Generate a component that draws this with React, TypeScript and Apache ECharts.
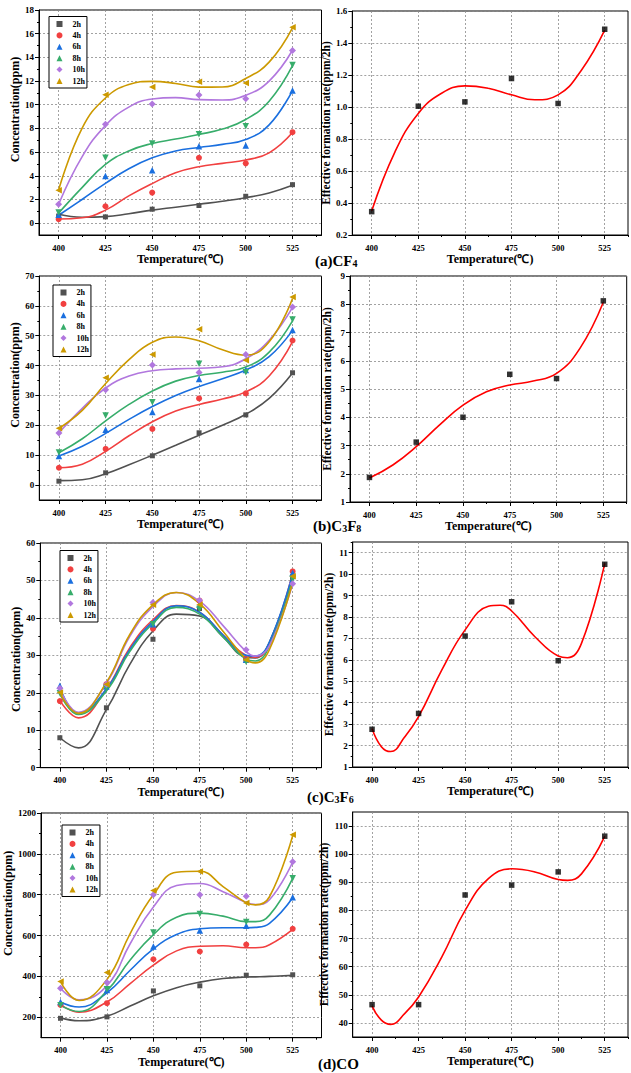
import React, { useEffect, useRef } from 'react';
import * as echarts from 'echarts';

// ---------- shared ----------
const TEMPS = [400, 425, 450, 475, 500, 525];
const HOURS = ['2h', '4h', '6h', '8h', '10h', '12h'];
const X_TICKS = [400, 425, 450, 475, 500, 525];
const X_MINOR = [412.5, 437.5, 462.5, 487.5, 512.5, 537.5];
const FIT_X = [400, 412.5, 425, 437.5, 450, 462.5, 475, 487.5, 500, 512.5, 525];

// ---------- (a) CF4 ----------
const CF4_2H = [0.6, 0.53, 1.18, 1.49, 2.27, 3.25];
const CF4_4H = [0.34, 1.43, 2.58, 5.52, 5.05, 7.68];
const CF4_6H = [0.7, 3.98, 4.46, 6.5, 6.56, 11.2];
const CF4_8H = [0.9, 5.52, 6.73, 7.51, 8.19, 13.35];
const CF4_10H = [1.6, 8.35, 10.06, 10.82, 10.51, 14.58];
const CF4_12H = [2.78, 10.85, 11.49, 11.94, 11.83, 16.54];
const CF4_FIT_2H = [0.75, 0.5, 0.55, 0.8, 1.1, 1.35, 1.6, 1.85, 2.15, 2.55, 3.2];
const CF4_FIT_4H = [0.35, 0.45, 1.1, 2.3, 3.34, 4.26, 4.77, 5.05, 5.33, 5.94, 7.65];
const CF4_FIT_6H = [0.67, 2.0, 3.36, 4.6, 5.52, 6.1, 6.39, 6.65, 7.06, 8.3, 11.2];
const CF4_FIT_8H = [0.85, 3.0, 4.96, 6.1, 6.73, 7.1, 7.49, 7.95, 8.75, 10.3, 13.3];
const CF4_FIT_10H = [1.6, 5.6, 8.24, 9.8, 10.49, 10.6, 10.43, 10.4, 10.8, 12.0, 14.6];
const CF4_FIT_12H = [2.8, 8.0, 10.57, 11.7, 11.97, 11.8, 11.49, 11.5, 12.22, 13.6, 16.5];
const CF4_RATE = [0.346, 1.005, 1.032, 1.178, 1.022, 1.486];
const CF4_RATE_FIT = [0.35, 0.72, 0.96, 1.086, 1.132, 1.117, 1.076, 1.045, 1.076, 1.23, 1.48];
const CF4_Y_TICKS = [0, 2, 4, 6, 8, 10, 12, 14, 16, 18];
const CF4_Y_MINOR = [1, 3, 5, 7, 9, 11, 13, 15, 17];
const CF4_R_TICKS = [0.2, 0.4, 0.6, 0.8, 1.0, 1.2, 1.4, 1.6];
const CF4_R_MINOR = [0.3, 0.5, 0.7, 0.9, 1.1, 1.3, 1.5];

// ---------- (b) C3F8 ----------
const C3F8_2H = [1.3, 4.1, 9.8, 17.5, 23.5, 37.6];
const C3F8_4H = [5.8, 12.1, 18.8, 29.0, 30.7, 48.4];
const C3F8_6H = [9.7, 18.5, 24.5, 35.5, 38.5, 51.9];
const C3F8_8H = [10.9, 23.3, 27.7, 40.6, 37.8, 55.4];
const C3F8_10H = [17.4, 31.9, 40.2, 37.7, 43.7, 59.6];
const C3F8_12H = [19.0, 35.9, 43.7, 52.2, 41.8, 63.0];
const C3F8_FIT_2H = [1.5, 1.8, 3.8, 6.8, 10.0, 13.3, 16.7, 20.0, 23.7, 29.0, 37.5];
const C3F8_FIT_4H = [5.8, 7.0, 11.3, 16.5, 21.2, 24.8, 27.0, 28.8, 31.2, 36.5, 48.0];
const C3F8_FIT_6H = [9.7, 13.0, 17.3, 22.0, 26.3, 30.0, 33.0, 35.6, 38.5, 43.0, 51.8];
const C3F8_FIT_8H = [10.8, 15.5, 21.5, 27.0, 31.5, 34.8, 36.7, 37.8, 39.5, 44.5, 55.0];
const C3F8_FIT_10H = [17.5, 25.7, 32.5, 36.5, 38.3, 38.9, 39.1, 39.6, 42.3, 48.5, 59.5];
const C3F8_FIT_12H = [19.0, 25.0, 34.0, 42.0, 47.8, 49.6, 48.3, 45.3, 43.5, 48.0, 62.5];
const C3F8_RATE = [1.87, 3.12, 4.0, 5.52, 5.37, 8.12];
const C3F8_RATE_FIT = [1.85, 2.31, 2.96, 3.73, 4.43, 4.9, 5.14, 5.28, 5.55, 6.44, 8.07];
const C3F8_Y_TICKS = [0, 10, 20, 30, 40, 50, 60, 70];
const C3F8_Y_MINOR = [5, 15, 25, 35, 45, 55, 65];
const C3F8_R_TICKS = [1, 2, 3, 4, 5, 6, 7, 8, 9];
const C3F8_R_MINOR = [1.5, 2.5, 3.5, 4.5, 5.5, 6.5, 7.5, 8.5];

// ---------- (c) C3F6 ----------
const C3F6_FIT_X = [400, 410, 425, 437.5, 450, 462.5, 475, 487.5, 500, 505, 512.5, 525];
const C3F6_2H = [8.0, 16.0, 34.3, 42.5, 28.8, 51.0];
const C3F6_4H = [17.8, 22.3, 37.1, 44.6, 29.0, 52.4];
const C3F6_6H = [21.9, 21.7, 38.3, 43.5, 28.8, 52.0];
const C3F6_8H = [19.9, 21.2, 38.3, 42.4, 28.3, 50.4];
const C3F6_10H = [21.2, 22.3, 44.1, 44.7, 31.5, 49.1];
const C3F6_12H = [20.1, 22.3, 43.5, 43.5, 28.8, 51.1];
const C3F6_FIT_2H = [8.0, 5.3, 15.5, 27.5, 36.5, 41.0, 40.5, 35.0, 29.5, 29.3, 33.5, 51.0];
const C3F6_FIT_4H = [18.0, 13.3, 21.0, 32.0, 39.5, 43.3, 41.5, 35.5, 30.0, 29.5, 33.0, 52.0];
const C3F6_FIT_6H = [21.5, 14.5, 21.0, 31.5, 39.0, 43.2, 41.5, 35.5, 30.0, 29.8, 33.5, 51.8];
const C3F6_FIT_8H = [19.8, 14.2, 20.5, 31.0, 38.5, 42.8, 41.0, 35.0, 29.0, 28.5, 32.5, 50.3];
const C3F6_FIT_10H = [21.0, 14.8, 22.5, 35.0, 43.0, 46.8, 44.5, 38.0, 31.0, 29.8, 32.5, 49.2];
const C3F6_FIT_12H = [20.0, 14.5, 22.8, 35.5, 43.5, 46.8, 43.8, 36.5, 29.0, 28.0, 31.5, 49.5];
const C3F6_RATE = [2.76, 3.5, 7.11, 8.71, 5.96, 10.46];
const C3F6_RATE_FIT_X = [400, 405, 410, 417.5, 425, 437.5, 450, 462.5, 468.75, 475, 487.5, 500, 505, 512.5, 525];
const C3F6_RATE_FIT = [2.8, 1.95, 1.72, 2.4, 3.35, 5.53, 7.4, 8.5, 8.55, 8.28, 7.08, 6.18, 6.1, 6.77, 10.5];
const C3F6_Y_TICKS = [0, 10, 20, 30, 40, 50, 60];
const C3F6_Y_MINOR = [5, 15, 25, 35, 45, 55];
const C3F6_R_TICKS = [1, 2, 3, 4, 5, 6, 7, 8, 9, 10, 11];
const C3F6_R_MINOR = [1.5, 2.5, 3.5, 4.5, 5.5, 6.5, 7.5, 8.5, 9.5, 10.5, 11.5];

// ---------- (d) CO ----------
const CO_FIT_X = [400, 410, 425, 437.5, 450, 462.5, 475, 487.5, 500, 505, 512.5, 525];
const CO_2H = [195, 202, 329, 354, 406, 408];
const CO_4H = [260, 269, 484, 522, 556, 633];
const CO_6H = [275, 334, 546, 625, 648, 787];
const CO_8H = [259, 337, 615, 705, 667, 880];
const CO_10H = [342, 370, 800, 800, 792, 961];
const CO_12H = [375, 419, 821, 914, 759, 1094];
const CO_FIT_2H = [197, 183, 205, 255, 305, 345, 372, 390, 397, 398, 400, 405];
const CO_FIT_4H = [262, 225, 275, 365, 455, 525, 548, 550, 540, 540, 555, 630];
const CO_FIT_6H = [275, 250, 320, 430, 535, 605, 633, 638, 638, 640, 660, 785];
const CO_FIT_8H = [258, 228, 330, 480, 605, 690, 710, 695, 668, 668, 700, 880];
const CO_FIT_10H = [342, 285, 355, 560, 740, 845, 855, 815, 762, 752, 775, 960];
const CO_FIT_12H = [375, 282, 385, 610, 800, 910, 915, 840, 760, 750, 790, 1090];
const CO_RATE = [46.5, 46.5, 85.5, 89.0, 93.7, 106.4];
const CO_RATE_FIT_X = [400, 405, 410, 417.5, 425, 437.5, 450, 462.5, 475, 487.5, 500, 505, 512.5, 525];
const CO_RATE_FIT = [46, 41, 39.5, 43.3, 49.2, 63.5, 80, 91.3, 94.8, 93.7, 91, 90.7, 93, 106.3];
const CO_Y_TICKS = [200, 400, 600, 800, 1000, 1200];
const CO_Y_MINOR = [300, 500, 700, 900, 1100];
const CO_R_TICKS = [40, 50, 60, 70, 80, 90, 100, 110];
const CO_R_MINOR = [45, 55, 65, 75, 85, 95, 105];

// ---------- styling ----------
const FONT = '"Liberation Serif", "Times New Roman", serif';
const PALETTE = ['#515151', '#F14040', '#1A6FDF', '#37AD6B', '#B177DE', '#CC9900'];
const SYMBOLS = ['rect', 'circle', 'triangle', 'triangle', 'diamond', 'triangle'];
const ROTATE = [0, 0, 0, 180, 0, 90];
const SIZES = [5, 6, 6.5, 6.5, 7, 6.5];

const pairs = (xs: number[], ys: number[]) => xs.map((x, i) => [x, ys[i]]);

function buildOption() {
  const grid: any[] = [];
  const xAxis: any[] = [];
  const yAxis: any[] = [];
  const series: any[] = [];
  const legend: any[] = [];

  const splitLine = { show: true, lineStyle: { color: '#8a8a8a', type: [2, 2], width: 0.8 } };
  const labelStyle = { fontSize: 9, fontWeight: 'bold', fontFamily: FONT, color: '#000' };

  function addPanel(cfg: any) {
    const gi = grid.length;
    grid.push({
      left: cfg.left, top: cfg.top, width: cfg.width, height: cfg.height,
      show: true, borderColor: '#000', borderWidth: 1, backgroundColor: 'transparent',
    });
    const xi = xAxis.length;
    xAxis.push({
      type: 'value', gridIndex: gi, min: cfg.xMin, max: cfg.xMax, position: 'bottom',
      name: 'Temperature(℃)', nameLocation: 'middle', nameGap: cfg.xNameGap,
      nameTextStyle: { fontSize: 12, fontWeight: 'bold', fontFamily: FONT, color: '#000' },
      axisLine: { show: true, onZero: false, lineStyle: { color: '#000', width: 1 } },
      axisTick: { show: true, customValues: X_TICKS, length: 4, lineStyle: { color: '#000' } },
      axisLabel: { show: true, customValues: X_TICKS, margin: 8, ...labelStyle, fontSize: 8.5 },
      splitLine,
    });
    xAxis.push({
      type: 'value', gridIndex: gi, min: cfg.xMin, max: cfg.xMax, position: 'bottom',
      axisLine: { show: false, onZero: false },
      axisTick: { show: true, customValues: X_MINOR, length: 2, lineStyle: { color: '#000' } },
      axisLabel: { show: false },
      splitLine: { show: false },
    });
    const yi = yAxis.length;
    yAxis.push({
      type: 'value', gridIndex: gi, min: cfg.yMin, max: cfg.yMax, position: 'left',
      name: cfg.yName, nameLocation: 'middle', nameGap: cfg.yNameGap,
      nameTextStyle: {
        fontSize: cfg.yNameSize, fontWeight: 'bold', fontFamily: FONT, color: '#000',
        padding: cfg.yNamePad,
      },
      axisLine: { show: true, onZero: false, lineStyle: { color: '#000', width: 1 } },
      axisTick: { show: true, customValues: cfg.yTicks, length: 4, lineStyle: { color: '#000' } },
      axisLabel: {
        show: true, customValues: cfg.yTicks, margin: 5, ...labelStyle,
        formatter: cfg.yFmt || ((v: number) => String(v)),
      },
      splitLine,
    });
    yAxis.push({
      type: 'value', gridIndex: gi, min: cfg.yMin, max: cfg.yMax, position: 'left',
      axisLine: { show: false, onZero: false },
      axisTick: { show: true, customValues: cfg.yMinor, length: 2, lineStyle: { color: '#000' } },
      axisLabel: { show: false },
      splitLine: { show: false },
    });
    return { xi, yi };
  }

  function addConc(cfg: any, scat: number[][], fitX: number[], fits: number[][], leg: any) {
    const { xi, yi } = addPanel(cfg);
    fits.forEach((f, i) => {
      series.push({
        type: 'line', name: 'fit ' + HOURS[i], xAxisIndex: xi, yAxisIndex: yi,
        data: pairs(fitX, f), smooth: 0.45, showSymbol: false, symbol: 'none',
        lineStyle: { color: PALETTE[i], width: 1.6 }, z: 2, silent: true,
      });
    });
    scat.forEach((s, i) => {
      series.push({
        type: 'scatter', name: HOURS[i], xAxisIndex: xi, yAxisIndex: yi,
        data: pairs(TEMPS, s), symbol: SYMBOLS[i], symbolRotate: ROTATE[i], symbolSize: SIZES[i],
        symbolKeepAspect: true,
        itemStyle: { color: PALETTE[i], opacity: 1 }, z: 3,
      });
    });
    legend.push({
      data: HOURS.map((h, i) => ({ name: h, icon: SYMBOLS[i], symbolRotate: ROTATE[i] })),
      orient: 'vertical', left: leg.left, top: leg.top,
      itemWidth: 6, itemHeight: 6, itemGap: 2.4, padding: [3, 2, 2.5, 7.5],
      borderColor: '#000', borderWidth: 1, backgroundColor: '#fff', borderRadius: 0,
      selectedMode: false,
      textStyle: {
        fontSize: 8, fontWeight: 'bold', fontFamily: FONT, color: '#000', lineHeight: 9,
        padding: [0, 0, 0, 5],
      },
    });
  }

  function addRate(cfg: any, rate: number[], fitX: number[], fit: number[]) {
    const { xi, yi } = addPanel(cfg);
    series.push({
      type: 'line', name: 'rate fit', xAxisIndex: xi, yAxisIndex: yi,
      data: pairs(fitX, fit), smooth: 0.45, showSymbol: false, symbol: 'none',
      lineStyle: { color: '#FF0000', width: 1.6 }, z: 2, silent: true,
    });
    series.push({
      type: 'scatter', name: 'rate', xAxisIndex: xi, yAxisIndex: yi,
      data: pairs(TEMPS, rate), symbol: 'rect', symbolSize: 5.5,
      itemStyle: { color: '#000' }, z: 3,
    });
  }

  const concName = 'Concentration(ppm)';
  const rateName = 'Effective formation rate(ppm/2h)';
  const L = { xMin: 389.5, xMax: 540.5, yName: concName, yNameSize: 12, xNameGap: 14 };
  const R = { xMin: 389.6, xMax: 537.5, yName: rateName, yNameSize: 11.5, xNameGap: 16 };

  // (a)
  addConc(
    { ...L, left: 39, top: 10, width: 282.5, height: 225, yMin: -1, yMax: 18,
      yTicks: CF4_Y_TICKS, yMinor: CF4_Y_MINOR, yNameGap: 13, yNamePad: [0, 0, 0, 26] },
    [CF4_2H, CF4_4H, CF4_6H, CF4_8H, CF4_10H, CF4_12H], FIT_X,
    [CF4_FIT_2H, CF4_FIT_4H, CF4_FIT_6H, CF4_FIT_8H, CF4_FIT_10H, CF4_FIT_12H],
    { left: 49, top: 16.5 },
  );
  addRate(
    { ...R, left: 352.3, top: 11, width: 275.7, height: 224, yMin: 0.2, yMax: 1.6,
      yTicks: CF4_R_TICKS, yMinor: CF4_R_MINOR, yNameGap: 18, yNamePad: 0,
      yFmt: (v: number) => v.toFixed(1) },
    CF4_RATE, FIT_X, CF4_RATE_FIT,
  );

  // (b)
  addConc(
    { ...L, left: 39.3, top: 276, width: 282.2, height: 224, yMin: -5, yMax: 70,
      yTicks: C3F8_Y_TICKS, yMinor: C3F8_Y_MINOR, yNameGap: 13, yNamePad: [0, 0, 0, 26] },
    [C3F8_2H, C3F8_4H, C3F8_6H, C3F8_8H, C3F8_10H, C3F8_12H], FIT_X,
    [C3F8_FIT_2H, C3F8_FIT_4H, C3F8_FIT_6H, C3F8_FIT_8H, C3F8_FIT_10H, C3F8_FIT_12H],
    { left: 53, top: 285 },
  );
  addRate(
    { ...R, left: 350, top: 276, width: 276.7, height: 226, yMin: 1, yMax: 9,
      yTicks: C3F8_R_TICKS, yMinor: C3F8_R_MINOR, yNameGap: 17, yNamePad: 0 },
    C3F8_RATE, FIT_X, C3F8_RATE_FIT,
  );

  // (c)
  addConc(
    { ...L, left: 40.3, top: 543, width: 281.2, height: 224.7, yMin: 0, yMax: 60,
      yTicks: C3F6_Y_TICKS, yMinor: C3F6_Y_MINOR, yNameGap: 13, yNamePad: [0, 8, 0, 0] },
    [C3F6_2H, C3F6_4H, C3F6_6H, C3F6_8H, C3F6_10H, C3F6_12H], C3F6_FIT_X,
    [C3F6_FIT_2H, C3F6_FIT_4H, C3F6_FIT_6H, C3F6_FIT_8H, C3F6_FIT_10H, C3F6_FIT_12H],
    { left: 60, top: 550.5 },
  );
  addRate(
    { ...R, left: 352.7, top: 542, width: 275.3, height: 225, yMin: 1, yMax: 11.5,
      yTicks: C3F6_R_TICKS, yMinor: C3F6_R_MINOR, yNameGap: 16, yNamePad: 0 },
    C3F6_RATE, C3F6_RATE_FIT_X, C3F6_RATE_FIT,
  );

  // (d)
  addConc(
    { ...L, left: 41, top: 813, width: 280.5, height: 224.7, yMin: 100, yMax: 1200,
      yTicks: CO_Y_TICKS, yMinor: CO_Y_MINOR, yNameGap: 20, yNamePad: [0, 0, 0, 44] },
    [CO_2H, CO_4H, CO_6H, CO_8H, CO_10H, CO_12H], CO_FIT_X,
    [CO_FIT_2H, CO_FIT_4H, CO_FIT_6H, CO_FIT_8H, CO_FIT_10H, CO_FIT_12H],
    { left: 62, top: 825 },
  );
  addRate(
    { ...R, left: 352.7, top: 812, width: 275.3, height: 225, yMin: 35, yMax: 115,
      yTicks: CO_R_TICKS, yMinor: CO_R_MINOR, yNameGap: 18, yNamePad: 0, xNameGap: 18 },
    CO_RATE, CO_RATE_FIT_X, CO_RATE_FIT,
  );

  const capMain = { fontSize: 15, fontWeight: 'bold', fontFamily: FONT, color: '#000', lineHeight: 18, verticalAlign: 'bottom' };
  const capSub = { fontSize: 10, fontWeight: 'bold', fontFamily: FONT, color: '#000', lineHeight: 8, verticalAlign: 'bottom' };
  const caption = (left: number, top: number, text: string) => ({
    type: 'text', left, top, silent: true,
    style: { text, rich: { m: capMain, s: capSub } },
  });

  return {
    animation: false,
    backgroundColor: '#fff',
    grid, xAxis, yAxis, series, legend,
    graphic: [
      caption(315, 253, '{m|(a)CF}{s|4}'),
      caption(313, 518, '{m|(b)C}{s|3}{m|F}{s|8}'),
      caption(307, 789, '{m|(c)C}{s|3}{m|F}{s|6}'),
      caption(318, 1056, '{m|(d)CO}'),
    ],
  };
}

export default function App() {
  const ref = useRef<HTMLDivElement>(null);
  useEffect(() => {
    if (!ref.current) return;
    const chart = echarts.init(ref.current, undefined, { renderer: 'svg' });
    chart.setOption(buildOption() as any);
    return () => chart.dispose();
  }, []);
  return (
    <div
      ref={ref}
      style={{ position: 'absolute', left: 0, top: 0, width: 631, height: 1073, background: '#fff' }}
    />
  );
}
